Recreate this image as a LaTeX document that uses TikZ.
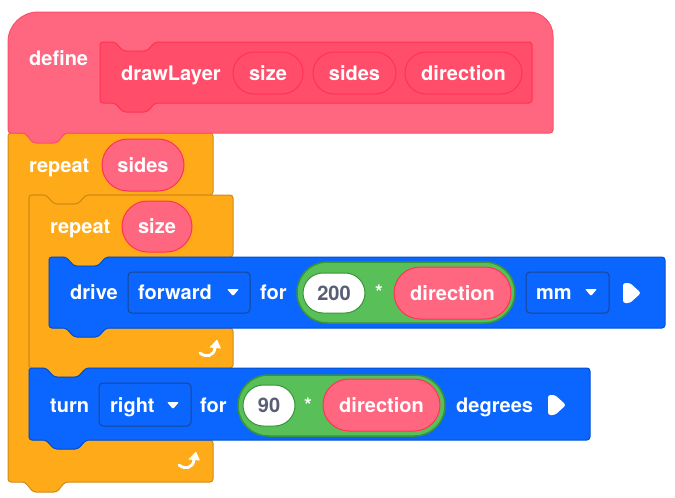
\documentclass[tikz,border=0pt]{standalone}
\usepackage{fontspec}
\setmainfont{TeX Gyre Heros}
\usetikzlibrary{shapes}
\definecolor{defFill}{HTML}{FF6680}
\definecolor{defLine}{HTML}{FF4D6A}
\definecolor{protoFill}{HTML}{FF4D6A}
\definecolor{protoLine}{HTML}{FF3355}
\definecolor{ctrlFill}{HTML}{FFAB19}
\definecolor{ctrlLine}{HTML}{CF8B17}
\definecolor{blkFill}{HTML}{0A66FF}
\definecolor{blkLine}{HTML}{0050D0}
\definecolor{menuLine}{HTML}{1C4595}
\definecolor{opFill}{HTML}{59C059}
\definecolor{opLine}{HTML}{389438}
\definecolor{numText}{HTML}{575E75}

\begin{document}
\begin{tikzpicture}[x=1pt, y=-1pt]
    \tikzstyle{txt} = [text=white, font=\bfseries\fontsize{20}{24}\selectfont, text height=14.5pt, text depth=0pt]
    \tikzstyle{word} = [txt, inner sep=0pt, anchor=west]
    \tikzstyle{arg} = [txt, rounded rectangle, inner sep=0pt, draw=protoLine, fill=protoFill, line width=1pt]
    \tikzstyle{reporter} = [arg, fill=defFill]
    \tikzstyle{operator} = [rounded rectangle, inner sep=0pt, draw=opLine, fill=opFill, line width=1.5pt]
    \tikzstyle{number} = [arg, draw=opLine, fill=white, text=numText]
    \tikzstyle{menu} = [rectangle, rounded corners=4pt, draw=menuLine, fill=blkFill, line width=1pt]
    \tikzstyle{ctrl} = [draw=ctrlLine, fill=ctrlFill, line width=1pt, rounded corners=3pt]
    \tikzstyle{motion} = [draw=blkLine, fill=blkFill, line width=1pt, rounded corners=3pt]
    \tikzset{loopicon/.pic={
        \draw[white, line width=2.8pt, line cap=round] (-10,4) .. controls (-4,9) and (4,7) .. (5,-1);
        \fill[white] (-0.5,-1.5) -- (11,-0.5) -- (7,-9.5) -- cycle;
    }}
    \useasboundingbox (0,0) rectangle (675,498);

    % Блоки
    \draw[ctrl] (8,133) -- (25,133) -- (33,142) -- (57,142) -- (65,133) -- (213,133) -- (213,195)
        -- (86,195) -- (78,204) -- (54,204) -- (46,195) -- (29,195) -- (29,440) -- (46,440) -- (54,449)
        -- (78,449) -- (86,440) -- (213,440) -- (213,482) -- (65,482) -- (57,492) -- (33,492) -- (25,482)
        -- (8,482) -- cycle;
    \draw[ctrl] (29,195) -- (46,195) -- (54,204) -- (78,204) -- (86,195) -- (233,195) -- (233,257)
        -- (106,257) -- (98,266) -- (74,266) -- (66,257) -- (49,257) -- (49,328) -- (66,328) -- (74,337)
        -- (98,337) -- (106,328) -- (233,328) -- (233,368) -- (86,368) -- (78,377) -- (54,377) -- (46,368)
        -- (29,368) -- cycle;
    \draw[motion] (49,257) -- (66,257) -- (74,266) -- (98,266) -- (106,257) -- (665,257) -- (665,328)
        -- (106,328) -- (98,337) -- (74,337) -- (66,328) -- (49,328) -- cycle;
    \draw[motion] (29,368) -- (46,368) -- (54,377) -- (78,377) -- (86,368) -- (590,368) -- (590,440)
        -- (86,440) -- (78,449) -- (54,449) -- (46,440) -- (29,440) -- cycle;
    \draw[draw=defLine, fill=defFill, line width=1pt] (8,80) [rounded corners=30pt] -- (8,12) -- (300,12)
        [rounded corners=24pt] -- (553,12) -- (553,70) [rounded corners=3pt] -- (553,133) -- (65,133)
        -- (57,143) -- (33,143) -- (25,133) -- (8,133) -- cycle;
    \draw[draw=protoLine, fill=protoFill, line width=1pt, rounded corners=3pt] (100,42) -- (115,42)
        -- (123,51) -- (147,51) -- (155,42) -- (532,42) -- (532,103) -- (155,103) -- (147,112)
        -- (123,112) -- (115,103) -- (100,103) -- cycle;

    % define
    \node[word] (def) at (29,58) {define};
    \node[word] (name) at (121,73.5) {drawLayer};
    \node[arg, minimum width=70pt, minimum height=42pt] (pSize) at (268,73) {size};
    \node[arg, minimum width=83pt, minimum height=42pt] (pSides) at (354.5,73) {sides};
    \node[arg, minimum width=117pt, minimum height=42pt] (pDir) at (463.5,73) {direction};

    % repeat
    \node[word] (rep1) at (29,165) {repeat};
    \node[reporter, minimum width=82pt, minimum height=52pt] (sides) at (143,165) {sides};
    \node[word] (rep2) at (50,226.5) {repeat};
    \node[reporter, minimum width=70pt, minimum height=51pt] (size) at (157,226.5) {size};

    % drive
    \node[word] (drv) at (70,292) {drive};
    \node[menu, minimum width=122pt, minimum height=41pt] (fwdBox) at (189,292.5) {};
    \node[word] (fwd) at (138,292) {forward};
    \fill[white, rounded corners=1pt] (227,289) -- (239,289) -- (233,296) -- cycle;
    \node[word] (for1) at (260,292) {for};
    \node[operator, minimum width=218pt, minimum height=61pt] (mul1) at (406,292.5) {};
    \node[number, minimum width=62pt, minimum height=40pt] (n200) at (334,293) {200};
    \node[txt, inner sep=0pt] (star1) at (379,292) {*};
    \node[reporter, minimum width=117pt, minimum height=52pt] (dir1) at (452.5,293) {direction};
    \node[menu, minimum width=83pt, minimum height=41pt] (mmBox) at (567.5,292.5) {};
    \node[word] (mm) at (536,292) {mm};
    \fill[white, rounded corners=1pt] (585,289) -- (597,289) -- (591,296) -- cycle;
    \fill[white, rounded corners=2.5pt] (623,283) -- (630,283) -- (641,293) -- (630,303) -- (623,303) -- cycle;

    % turn
    \node[word] (trn) at (50,405.5) {turn};
    \node[menu, minimum width=92pt, minimum height=43pt] (rgtBox) at (145,404.5) {};
    \node[word] (rgt) at (110,405.5) {right};
    \fill[white, rounded corners=1pt] (167,402) -- (179,402) -- (173,409) -- cycle;
    \node[word] (for2) at (200,405.5) {for};
    \node[operator, minimum width=207pt, minimum height=61pt] (mul2) at (341.5,405.5) {};
    \node[number, minimum width=52pt, minimum height=41pt] (n90) at (269,405.5) {90};
    \node[txt, inner sep=0pt] (star2) at (308,405.5) {*};
    \node[reporter, minimum width=117pt, minimum height=52pt] (dir2) at (381.5,405) {direction};
    \node[word] (deg) at (456,405.5) {degrees};
    \fill[white, rounded corners=2.5pt] (548,395) -- (555,395) -- (566,405) -- (555,415) -- (548,415) -- cycle;

    % стрілки циклів
    \pic at (210,349) {loopicon};
    \pic at (189,461) {loopicon};
\end{tikzpicture}
\end{document}
